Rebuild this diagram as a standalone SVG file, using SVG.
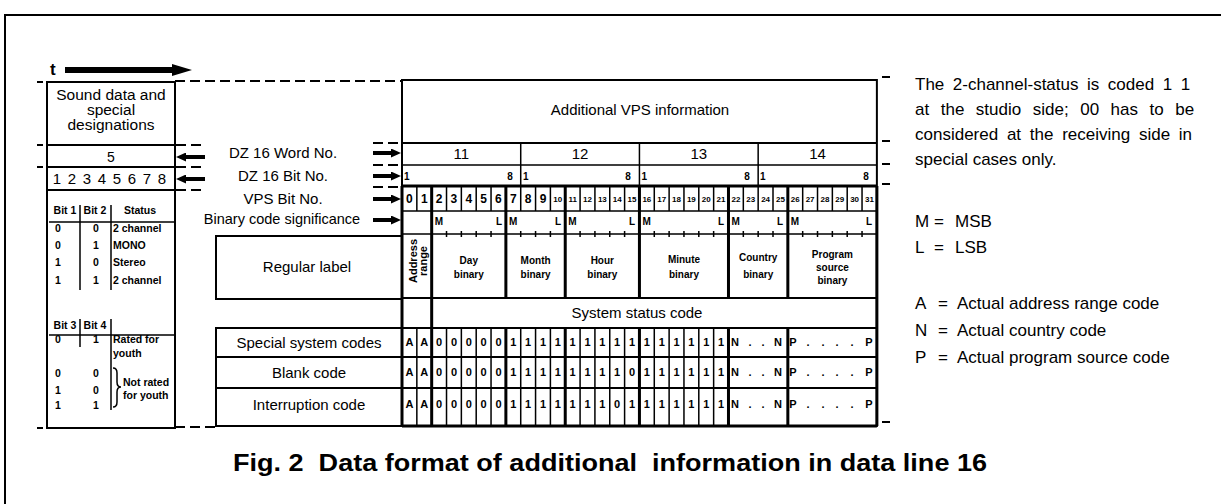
<svg xmlns="http://www.w3.org/2000/svg" width="1221" height="504" viewBox="0 0 1221 504">
<style>
text{font-family:"Liberation Sans",Arial,Helvetica,sans-serif;fill:#000}
.ln{stroke:#000;fill:none;stroke-width:1.5}
.bd{stroke:#000;fill:none;stroke-width:2}
.tk{stroke:#000;fill:none;stroke-width:3}
.ds{stroke:#000;fill:none;stroke-width:2;stroke-dasharray:10 5}
.lab{font-size:15px;text-anchor:middle}
.sm{font-size:10.5px;font-weight:bold}
.c{text-anchor:middle}
.e{text-anchor:end}
.bit{font-size:12px;font-weight:bold;text-anchor:middle}
.bit2{font-size:8px;font-weight:bold;text-anchor:middle}
.cell{font-size:11px;font-weight:bold;text-anchor:middle}
.grp{font-size:10px;font-weight:bold;text-anchor:middle}
.ml{font-size:10px;font-weight:bold}
.leg{font-size:17px}
.arr{stroke:#000;stroke-width:4}
</style>
<defs>
<marker id="ah" viewBox="0 0 10 9" markerWidth="10" markerHeight="9" refX="0" refY="4.5" orient="auto" markerUnits="userSpaceOnUse"><path d="M0,0 L10,4.5 L0,9 z" fill="#000"/></marker>
<marker id="ahBig" viewBox="0 0 20 12" markerWidth="20" markerHeight="12" refX="0" refY="6" orient="auto" markerUnits="userSpaceOnUse"><path d="M0,0 L20,6 L0,12 z" fill="#000"/></marker>
</defs>
<rect x="0" y="0" width="1221" height="504" fill="#fff"/>
<path class="bd" d="M5,504 V15 H1221"/>

<g id="connectors">
  <text x="50" y="75" style="font-size:17px;font-weight:bold">t</text>
  <line x1="65" y1="70" x2="172" y2="70" stroke="#000" stroke-width="6" marker-end="url(#ahBig)"/>
  <line class="arr" x1="205" y1="157" x2="186" y2="157" marker-end="url(#ah)"/>
  <line class="arr" x1="205" y1="179" x2="186" y2="179" marker-end="url(#ah)"/>
  <line class="arr" x1="373" y1="153" x2="391" y2="153" marker-end="url(#ah)"/>
  <line class="arr" x1="373" y1="176" x2="391" y2="176" marker-end="url(#ah)"/>
  <line class="arr" x1="373" y1="199" x2="391" y2="199" marker-end="url(#ah)"/>
  <line class="arr" x1="373" y1="220" x2="391" y2="220" marker-end="url(#ah)"/>
  <path class="ds" d="M175,81 H402 M176,145 H205 M176,167 H205 M176,190 H205 M373,143 H402 M373,165 H402 M373,187 H402 M175,427 H216"/>
  <path class="bd" d="M37,82 H43 M37,145 H43 M37,167 H43 M37,428 H43 M882,77 H890 M882,141 H890 M882,164 H890 M882,184 H890 M882,422 H890"/>
</g>

<g id="sound-panel">
  <rect class="bd" x="47" y="82" width="128" height="346"/>
  <path class="bd" d="M47,145 H175 M47,167 H175 M47,190 H175"/>
  <text class="c" x="111" y="100" style="font-size:15.5px">Sound data and</text>
  <text class="c" x="111" y="115" style="font-size:15.5px">special</text>
  <text class="c" x="111" y="130" style="font-size:15.5px">designations</text>
  <text class="c" x="111" y="162" style="font-size:14px">5</text>
  <text class="c" x="57 72 87 102 117 132 147 162" y="184" style="font-size:15px">12345678</text>
  <path class="ln" d="M49,222 H175 M80,205 V290 M111,205 V290 M49,335 H175 M80,319 V347 M111,319 V410"/>
  <text class="sm c" x="65" y="214">Bit 1</text>
  <text class="sm c" x="95" y="214">Bit 2</text>
  <text class="sm c" x="140" y="214">Status</text>
  <text class="sm c" x="58 96" y="232">00</text>
  <text class="sm c" x="58 96" y="249">01</text>
  <text class="sm c" x="58 96" y="266">10</text>
  <text class="sm c" x="58 96" y="284">11</text>
  <text class="sm" x="113" y="232">2 channel</text>
  <text class="sm" x="113" y="249">MONO</text>
  <text class="sm" x="113" y="266">Stereo</text>
  <text class="sm" x="113" y="284">2 channel</text>
  <text class="sm c" x="65" y="329">Bit 3</text>
  <text class="sm c" x="95" y="329">Bit 4</text>
  <text class="sm c" x="58 96" y="343">01</text>
  <text class="sm" x="113" y="343">Rated for</text>
  <text class="sm" x="113" y="357">youth</text>
  <text class="sm c" x="58 96" y="377">00</text>
  <text class="sm c" x="58 96" y="394">10</text>
  <text class="sm c" x="58 96" y="409">11</text>
  <path class="ln" d="M113,368 Q117,368 117,373 V382 Q117,387 121,387 Q117,387 117,392 V402 Q117,407 113,407"/>
  <text class="sm" x="123" y="386">Not rated</text>
  <text class="sm" x="123" y="399">for youth</text>
</g>

<g id="row-labels">
  <text class="lab" x="283" y="158">DZ 16 Word No.</text>
  <text class="lab" x="283" y="181">DZ 16 Bit No.</text>
  <text class="lab" x="283" y="204">VPS Bit No.</text>
  <text class="lab" x="282" y="224" style="font-size:14.5px">Binary code significance</text>
</g>

<g id="code-labels">
  <rect class="bd" x="216" y="236" width="186" height="63"/>
  <text class="lab" x="307" y="272">Regular label</text>
  <rect class="bd" x="216" y="328" width="186" height="98"/>
  <path class="bd" d="M216,357 H402 M216,388 H402"/>
  <text class="lab" x="309" y="348">Special system codes</text>
  <text class="lab" x="309" y="378">Blank code</text>
  <text class="lab" x="309" y="410">Interruption code</text>
</g>

<g id="vps-table">
  <rect class="bd" x="402" y="80" width="474.88" height="346"/>
  <text class="lab" x="640" y="115">Additional VPS information</text>
  <path class="bd" d="M402,143 H876.88"/>
  <path class="ln" d="M402,165 H876.88 M520.72,143 V186 M639.44,143 V186 M758.16,143 V186"/>
  <text class="lab" x="461.4" y="159">11</text>
  <text class="lab" x="580.1" y="159">12</text>
  <text class="lab" x="698.8" y="159">13</text>
  <text class="lab" x="817.5" y="159">14</text>
  <text class="ml" x="404" y="180">1</text>
  <text class="ml c" x="510" y="180">8</text>
  <text class="ml" x="523" y="180">1</text>
  <text class="ml c" x="628" y="180">8</text>
  <text class="ml" x="641.5" y="180">1</text>
  <text class="ml c" x="747" y="180">8</text>
  <text class="ml" x="760" y="180">1</text>
  <text class="ml c" x="866" y="180">8</text>
  <path class="tk" d="M402,186 H876.88"/>
  <path class="ln" d="M416.84,186 V211 M431.68,186 V211 M446.52,186 V211 M461.36,186 V211 M476.2,186 V211 M491.04,186 V211 M505.88,186 V211 M520.72,186 V211 M535.56,186 V211 M550.4,186 V211 M565.24,186 V211 M580.08,186 V211 M594.92,186 V211 M609.76,186 V211 M624.6,186 V211 M639.44,186 V211 M654.28,186 V211 M669.12,186 V211 M683.96,186 V211 M698.8,186 V211 M713.64,186 V211 M728.48,186 V211 M743.32,186 V211 M758.16,186 V211 M773,186 V211 M787.84,186 V211 M802.68,186 V211 M817.52,186 V211 M832.36,186 V211 M847.2,186 V211 M862.04,186 V211"/>
  <text class="bit" x="409.42 424.26 439.1 453.94 468.78 483.62 498.46 513.3 528.14 542.98" y="203">0123456789</text>
  <text class="bit2" x="557.82" y="202">10</text>
  <text class="bit2" x="572.66" y="202">11</text>
  <text class="bit2" x="587.5" y="202">12</text>
  <text class="bit2" x="602.34" y="202">13</text>
  <text class="bit2" x="617.18" y="202">14</text>
  <text class="bit2" x="632.02" y="202">15</text>
  <text class="bit2" x="646.86" y="202">16</text>
  <text class="bit2" x="661.7" y="202">17</text>
  <text class="bit2" x="676.54" y="202">18</text>
  <text class="bit2" x="691.38" y="202">19</text>
  <text class="bit2" x="706.22" y="202">20</text>
  <text class="bit2" x="721.06" y="202">21</text>
  <text class="bit2" x="735.9" y="202">22</text>
  <text class="bit2" x="750.74" y="202">23</text>
  <text class="bit2" x="765.58" y="202">24</text>
  <text class="bit2" x="780.42" y="202">25</text>
  <text class="bit2" x="795.26" y="202">26</text>
  <text class="bit2" x="810.1" y="202">27</text>
  <text class="bit2" x="824.94" y="202">28</text>
  <text class="bit2" x="839.78" y="202">29</text>
  <text class="bit2" x="854.62" y="202">30</text>
  <text class="bit2" x="869.46" y="202">31</text>
  <path class="ln" d="M402,211 H876.88 M402,234 H876.88"/>
  <text class="ml" x="434.7" y="225">M</text>
  <text class="ml e" x="502" y="225">L</text>
  <text class="ml" x="508.9" y="225">M</text>
  <text class="ml e" x="561" y="225">L</text>
  <text class="ml" x="568.2" y="225">M</text>
  <text class="ml e" x="635" y="225">L</text>
  <text class="ml" x="642.4" y="225">M</text>
  <text class="ml e" x="724" y="225">L</text>
  <text class="ml" x="731.5" y="225">M</text>
  <text class="ml e" x="783" y="225">L</text>
  <text class="ml" x="790.8" y="225">M</text>
  <text class="ml e" x="872" y="225">L</text>
  <path class="ln" d="M446.52,231 V237 M461.36,231 V237 M476.2,231 V237 M491.04,231 V237 M520.72,231 V237 M535.56,231 V237 M550.4,231 V237 M580.08,231 V237 M594.92,231 V237 M609.76,231 V237 M624.6,231 V237 M654.28,231 V237 M669.12,231 V237 M683.96,231 V237 M698.8,231 V237 M713.64,231 V237 M743.32,231 V237 M758.16,231 V237 M773,231 V237 M802.68,231 V237 M817.52,231 V237 M832.36,231 V237 M847.2,231 V237 M862.04,231 V237"/>
  <path class="tk" d="M431.68,186 V426 M505.88,186 V298 M505.88,328 V426 M565.24,186 V298 M565.24,328 V426 M639.44,186 V298 M639.44,328 V426 M728.48,186 V298 M728.48,328 V426 M787.84,186 V298 M787.84,328 V426 M402,186 V426 M876.88,186 V426"/>
  <g transform="translate(417,261) rotate(-90)">
    <text class="grp" x="0" y="0" style="font-size:11px">Address</text>
    <text class="grp" x="0" y="10" style="font-size:11px">range</text>
  </g>
  <text class="grp" x="468.8" y="264">Day</text>
  <text class="grp" x="468.8" y="278">binary</text>
  <text class="grp" x="535.6" y="264">Month</text>
  <text class="grp" x="535.6" y="278">binary</text>
  <text class="grp" x="602.3" y="264">Hour</text>
  <text class="grp" x="602.3" y="278">binary</text>
  <text class="grp" x="684" y="263">Minute</text>
  <text class="grp" x="684" y="278">binary</text>
  <text class="grp" x="758.2" y="261">Country</text>
  <text class="grp" x="758.2" y="278">binary</text>
  <text class="grp" x="832.4" y="258">Program</text>
  <text class="grp" x="832.4" y="271">source</text>
  <text class="grp" x="832.4" y="284">binary</text>
  <path class="bd" d="M402,298 H876.88 M402,328 H876.88 M402,357 H876.88 M402,388 H876.88"/>
  <path class="tk" d="M402,426 H876.88"/>
  <text class="lab" x="637" y="318">System status code</text>
  <path class="ln" d="M416.84,328 V426 M446.52,328 V426 M461.36,328 V426 M476.2,328 V426 M491.04,328 V426 M520.72,328 V426 M535.56,328 V426 M550.4,328 V426 M580.08,328 V426 M594.92,328 V426 M609.76,328 V426 M624.6,328 V426 M654.28,328 V426 M669.12,328 V426 M683.96,328 V426 M698.8,328 V426 M713.64,328 V426"/>
  <text class="cell" x="409.42 424.26 439.1 453.94 468.78 483.62 498.46 513.3 528.14 542.98 557.82 572.66 587.5 602.34 617.18 632.02 646.86 661.7 676.54 691.38 706.22 721.06" y="346">AA00000111111111111111</text>
  <text class="cell" x="409.42 424.26 439.1 453.94 468.78 483.62 498.46 513.3 528.14 542.98 557.82 572.66 587.5 602.34 617.18 632.02 646.86 661.7 676.54 691.38 706.22 721.06" y="376">AA00000111111110111111</text>
  <text class="cell" x="409.42 424.26 439.1 453.94 468.78 483.62 498.46 513.3 528.14 542.98 557.82 572.66 587.5 602.34 617.18 632.02 646.86 661.7 676.54 691.38 706.22 721.06" y="408">AA00000111111101111111</text>
  <text class="cell" x="735 750 763 778" y="346">N..N</text>
  <text class="cell" x="735 750 763 778" y="376">N..N</text>
  <text class="cell" x="735 750 763 778" y="408">N..N</text>
  <text class="cell" x="793 808 823 837 852 869" y="346">P....P</text>
  <text class="cell" x="793 808 823 837 852 869" y="376">P....P</text>
  <text class="cell" x="793 808 823 837 852 869" y="408">P....P</text>
</g>

<g id="legend">
  <text class="leg" x="915" y="90" style="word-spacing:3.8px">The 2-channel-status is coded 1 1</text>
  <text class="leg" x="915" y="115" style="word-spacing:6.8px">at the studio side; 00 has to be</text>
  <text class="leg" x="915" y="140" style="word-spacing:4px">considered at the receiving side in</text>
  <text class="leg" x="915" y="165">special cases only.</text>
  <text class="leg" x="915" y="227">M</text><text class="leg" x="934" y="227">=</text><text class="leg" x="955" y="227">MSB</text>
  <text class="leg" x="915" y="253">L</text><text class="leg" x="934" y="253">=</text><text class="leg" x="955" y="253">LSB</text>
  <text class="leg" x="915" y="309">A</text><text class="leg" x="938" y="309">=</text><text class="leg" x="957" y="309">Actual address range code</text>
  <text class="leg" x="915" y="336">N</text><text class="leg" x="938" y="336">=</text><text class="leg" x="957" y="336">Actual country code</text>
  <text class="leg" x="915" y="363">P</text><text class="leg" x="938" y="363">=</text><text class="leg" x="957" y="363">Actual program source code</text>
</g>

<g id="caption">
  <text x="233" y="471" xml:space="preserve" textLength="754" lengthAdjust="spacingAndGlyphs" style="font-size:24px;font-weight:bold">Fig. 2  Data format of additional  information in data line 16</text>
</g>
</svg>
